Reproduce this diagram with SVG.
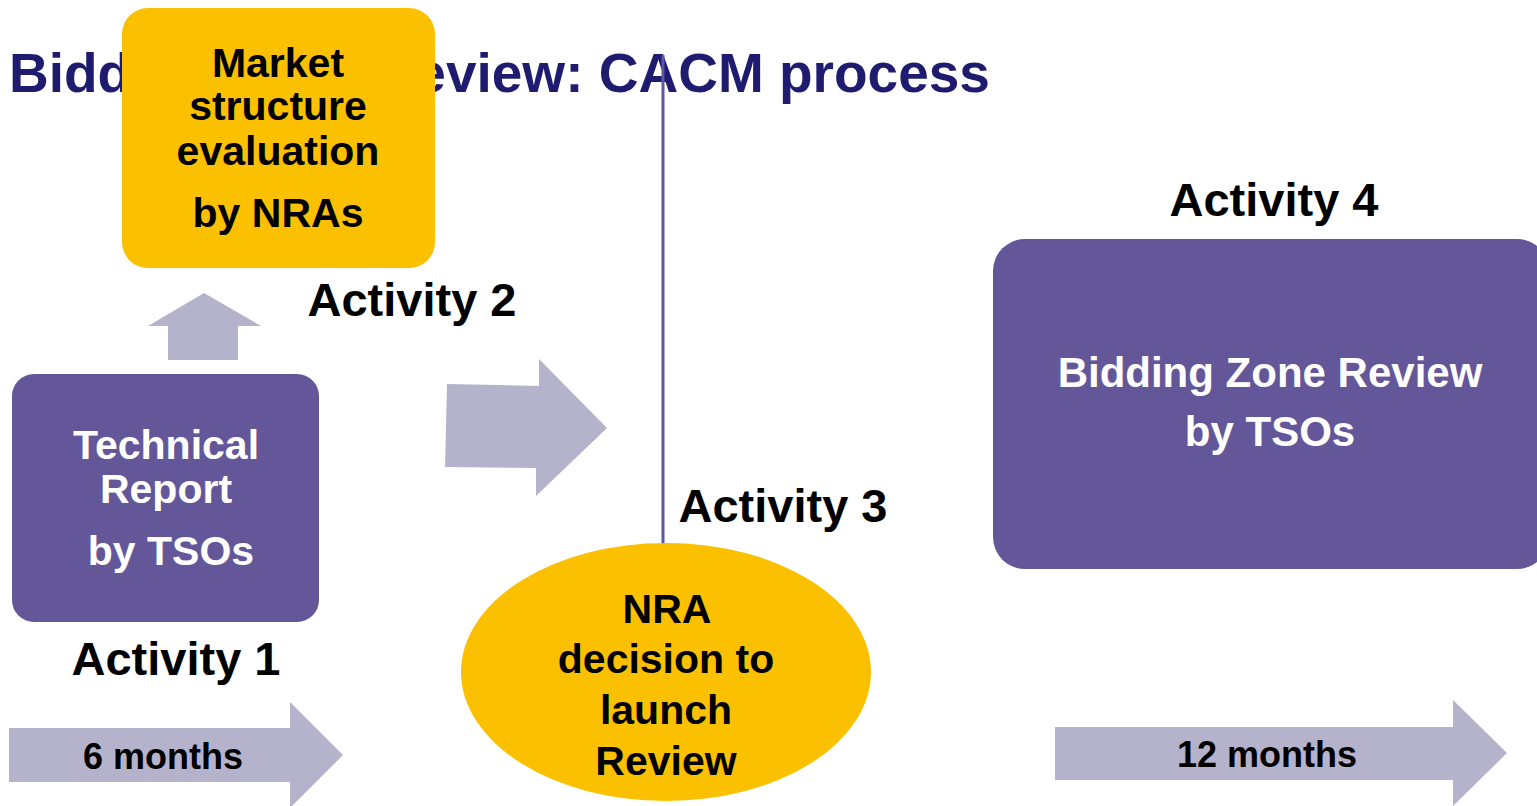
<svg xmlns="http://www.w3.org/2000/svg" width="1537" height="806" viewBox="0 0 1537 806">
<style>
  text { font-family: "Liberation Sans", Arial, sans-serif; font-weight: bold; text-anchor: middle; }
  .title { font-size: 55px; fill: #1F1B6F; text-anchor: start; }
  .purple { fill: #635799; }
  .yellow { fill: #FBC000; }
  .blk { fill: #B5B3CB; }
  .wt { fill: #FFFFFF; font-size: 41px; }
  .bk { fill: #000000; font-size: 41px; }
  .act { fill: #000000; font-size: 47px; }
  .dur { fill: #000000; font-size: 36px; }
</style>
<rect width="1537" height="806" fill="#FFFFFF"/>
<text class="title" x="9" y="92">Bidding Zone Review: CACM process</text>

<g id="connectors">
  <line x1="663" y1="55" x2="663" y2="546" stroke="#5E56A0" stroke-width="3"/>
  <polygon class="blk" points="168,360 238,360 238,326 261,326 204,293 148,326 168,326"/>
  <polygon class="blk" points="447,384 539,386 539,359 607,428 536,496 536,468 445,467"/>
  <polygon class="blk" points="9,728 290,728 290,702 343,755 290,808 290,782 9,782"/>
  <polygon class="blk" points="1055,727 1453,727 1453,700 1507,753 1453,806 1453,780 1055,780"/>
</g>

<g id="market-structure">
  <rect class="yellow" x="122" y="8" width="313" height="260" rx="26"/>
  <text class="bk" x="278" y="77">Market</text>
  <text class="bk" x="278" y="120">structure</text>
  <text class="bk" x="278" y="165">evaluation</text>
  <text class="bk" x="278" y="227">by NRAs</text>
</g>

<g id="technical-report">
  <rect class="purple" x="12" y="374" width="307" height="248" rx="22"/>
  <text class="wt" x="166" y="459">Technical</text>
  <text class="wt" x="166" y="503">Report</text>
  <text class="wt" x="171" y="565">by TSOs</text>
</g>

<g id="nra-decision">
  <ellipse class="yellow" cx="666" cy="672" rx="205" ry="129"/>
  <text class="bk" x="667" y="623">NRA</text>
  <text class="bk" x="666" y="673">decision to</text>
  <text class="bk" x="666" y="724">launch</text>
  <text class="bk" x="666" y="775">Review</text>
</g>

<g id="bidding-zone-review">
  <rect class="purple" x="993" y="239" width="556" height="330" rx="32"/>
  <text class="wt" x="1270" y="387" style="font-size:42px">Bidding Zone Review</text>
  <text class="wt" x="1270" y="446" style="font-size:42px">by TSOs</text>
</g>

<g id="labels">
  <text class="act" x="176" y="675">Activity 1</text>
  <text class="act" x="412" y="316">Activity 2</text>
  <text class="act" x="783" y="522">Activity 3</text>
  <text class="act" x="1274" y="216">Activity 4</text>
  <text class="dur" x="163" y="769">6 months</text>
  <text class="dur" x="1267" y="767">12 months</text>
</g>
</svg>
